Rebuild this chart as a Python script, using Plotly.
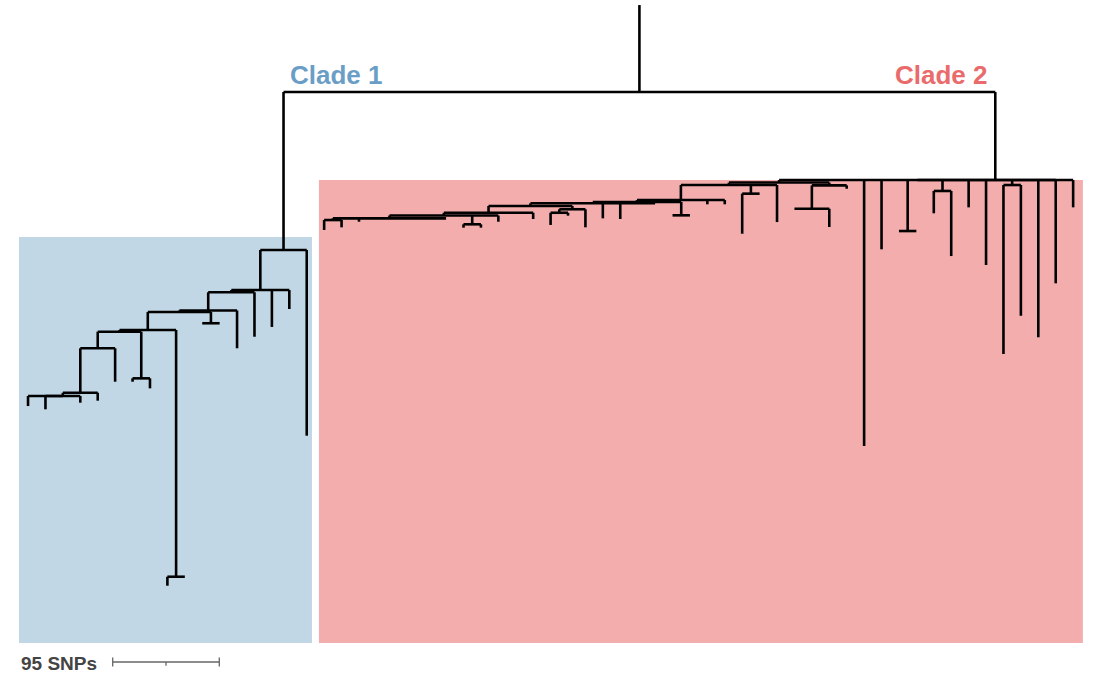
import plotly.graph_objects as go

# ---- tree: node name, parent, distance from the root node (SNPs) ----
node_names = [
    "root", "C1", "C2",
    # clade 1
    "A", "t16", "B", "t14", "t15", "C", "t13", "C1a", "t12",
    "H", "N10_11", "t10", "t11", "H1", "N8_9", "t08", "t09",
    "E2", "N6_7", "t06", "t07", "E", "t05", "F", "t04", "G", "t03",
    "t00", "t01", "t02",
    # clade 2
    "U", "t60", "S", "t48", "t49", "N50_51", "N52_53", "t54", "t55",
    "N56_57", "t58", "t59", "t50", "t51", "t52", "t53", "t56", "t57",
    "S2", "Q", "R", "t47", "t44", "t45", "t46",
    "LG", "N41_42", "t43", "t41", "t42",
    "LGa", "t39", "t40", "M5", "N37_38", "t37", "t38",
    "M4", "t33", "t34", "t35", "t36",
    "M3", "N30_32", "N30_31", "t32", "t30", "t31",
    "M2", "t28", "t29", "M1", "N25_26", "t27", "t25", "t26",
    "N17_18", "t19", "t20", "t21", "t22", "t23", "t24", "t17", "t18",
]
node_parents = [
    None, "root", "root",
    "C1", "C1", "A", "A", "A", "B", "B", "C", "C",
    "C1a", "C1a", "N10_11", "N10_11", "H", "H", "N8_9", "N8_9",
    "H1", "H1", "N6_7", "N6_7", "E2", "E2", "E", "E", "F", "F",
    "G", "G", "G",
    "C2", "C2", "U", "U", "U", "U", "U", "U", "U",
    "U", "U", "U", "N50_51", "N50_51", "N52_53", "N52_53", "N56_57", "N56_57",
    "S", "S", "Q", "Q", "R", "R", "R",
    "S2", "S2", "S2", "N41_42", "N41_42",
    "LG", "LG", "LG", "LGa", "LGa", "N37_38", "N37_38",
    "M5", "M5", "M5", "M5", "M5",
    "M4", "M4", "N30_32", "N30_32", "N30_31", "N30_31",
    "M3", "M3", "M3", "M2", "M2", "M2", "N25_26", "N25_26",
    "M1", "M1", "M1", "M1", "M1", "M1", "M1", "N17_18", "N17_18",
]
node_depth_snps = [
    0.0, 140.8, 78.4,
    176.5, 306.3, 178.5, 209.4, 193.4, 194.7, 218.1, 196.1, 228.4,
    212.1, 206.1, 206.1, 206.1, 213.6, 432.0, 440.0, 432.0,
    228.4, 255.2, 258.2, 264.1, 268.0, 258.2, 270.9, 275.1, 270.9, 276.9,
    279.9, 282.8, 270.9,
    78.4, 102.8, 80.7, 315.5, 140.2, 123.9, 88.2, 102.8, 154.2,
    82.9, 218.6, 170.5, 123.9, 123.9, 108.1, 146.2, 233.5, 199.4,
    82.9, 83.2, 104.0, 86.2, 104.0, 104.0, 120.3,
    96.3, 90.6, 115.9, 126.3, 90.6,
    98.0, 100.1, 100.1, 99.2, 109.9, 109.9, 109.9,
    101.6, 112.6, 113.2, 99.2, 99.2,
    107.6, 104.5, 107.6, 120.6, 118.5, 110.2,
    110.1, 107.6, 113.2, 112.6, 117.9, 115.6, 120.9, 120.9,
    114.1, 115.6, 112.6, 112.6, 112.6, 112.6, 112.6, 123.0, 120.6,
]
root_edge_snps = 77.5
scale_bar_snps = 95

clade_labels = ["Clade 1", "Clade 2"]
clade_nodes = ["C1", "C2"]
clade_text_colors = ["#6a9ec6", "#e96b6b"]
clade_fill_colors = ["#c1d7e6", "#f3adad"]
clade_box_top_snps = [129.2, 78.4]
clade_box_bottom_snps = 491.1
clade_box_pad_left = [0.52, 0.30]
clade_box_pad_right = [0.30, 0.56]

W, H = 1097, 673
x_range = [-1.61, 61.37]
y_range = [517.8, -82.0]
FONT = "Liberation Sans, Arial, sans-serif"

# ---- layout of the downward phylogram ----
children = {n: [] for n in node_names}
for n, p in zip(node_names, node_parents):
    if p is not None:
        children[p].append(n)
depth = dict(zip(node_names, node_depth_snps))
parent_of = dict(zip(node_names, node_parents))

xpos = {}
tips = []


def place(n):
    kids = children[n]
    if not kids:
        xpos[n] = float(len(tips))
        tips.append(n)
        return
    for c in kids:
        place(c)
    xpos[n] = (xpos[kids[0]] + xpos[kids[-1]]) / 2.0


place("root")


def tip_range(n):
    kids = children[n]
    if not kids:
        return xpos[n], xpos[n]
    lo, _ = tip_range(kids[0])
    _, hi = tip_range(kids[-1])
    return lo, hi


xs, ys = [], []
for n in node_names:
    p = parent_of[n]
    top = -root_edge_snps if p is None else depth[p]
    if depth[n] > top:
        xs += [xpos[n], xpos[n], None]
        ys += [top, depth[n], None]
    kids = children[n]
    if kids:
        xs += [xpos[kids[0]], xpos[kids[-1]], None]
        ys += [depth[n], depth[n], None]

fig = go.Figure()

fig.add_trace(go.Scatter(
    x=xs, y=ys, mode="lines",
    line=dict(color="#000000", width=2.6),
    hoverinfo="skip", showlegend=False,
))

# clade backgrounds and labels
for i, cn in enumerate(clade_nodes):
    lo, hi = tip_range(cn)
    fig.add_shape(
        type="rect", layer="below", line=dict(width=0),
        fillcolor=clade_fill_colors[i],
        x0=lo - clade_box_pad_left[i], x1=hi + clade_box_pad_right[i],
        y0=clade_box_top_snps[i], y1=clade_box_bottom_snps,
    )

fig.add_annotation(
    x=xpos["C1"], y=-15.2, text="<b>" + clade_labels[0] + "</b>",
    showarrow=False, xanchor="left", yanchor="middle", xshift=4,
    font=dict(family=FONT, size=26, color=clade_text_colors[0]),
)
fig.add_annotation(
    x=xpos["C2"], y=-15.2, text="<b>" + clade_labels[1] + "</b>",
    showarrow=False, xanchor="right", yanchor="middle", xshift=-5,
    font=dict(family=FONT, size=26, color=clade_text_colors[1]),
)

# scale bar: SNP length converted from the vertical scale to horizontal units
px_per_snp = H / (y_range[0] - y_range[1])
px_per_tip = W / (x_range[1] - x_range[0])
bar_len = scale_bar_snps * px_per_snp / px_per_tip
bar_x0 = 4.86
bar_y = 508.0
tick = 4.0
sx = [bar_x0, bar_x0 + bar_len, None,
      bar_x0, bar_x0, None,
      bar_x0 + bar_len, bar_x0 + bar_len, None,
      bar_x0 + bar_len / 2, bar_x0 + bar_len / 2, None]
sy = [bar_y, bar_y, None,
      bar_y - tick, bar_y + tick, None,
      bar_y - tick, bar_y + tick, None,
      bar_y, bar_y + 3.3, None]
fig.add_trace(go.Scatter(
    x=sx, y=sy, mode="lines", line=dict(color="#666666", width=1.3),
    hoverinfo="skip", showlegend=False,
))
fig.add_annotation(
    x=-0.52, y=bar_y + 1.0, text="<b>%d SNPs</b>" % scale_bar_snps,
    showarrow=False, xanchor="left", yanchor="middle",
    font=dict(family=FONT, size=19, color="#444444"),
)

fig.update_layout(
    width=W, height=H,
    margin=dict(l=0, r=0, t=0, b=0),
    paper_bgcolor="white", plot_bgcolor="white",
    xaxis=dict(range=x_range, visible=False, fixedrange=True),
    yaxis=dict(range=y_range, visible=False, fixedrange=True),
)

fig.write_html("out.html")
